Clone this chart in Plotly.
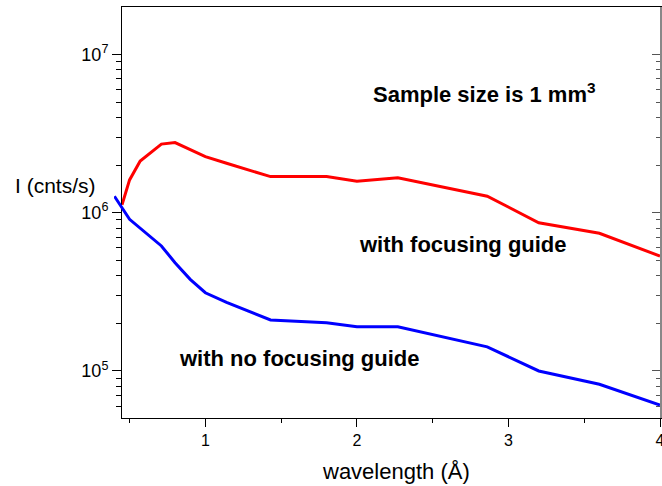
import plotly.graph_objects as go

# ---- data ----
wl_focus = [0.45, 0.5, 0.57, 0.71, 0.8, 1.0, 1.14, 1.43, 1.8, 2.0, 2.27, 2.86, 3.2, 3.6, 4.0]
I_focus = [1.12e6, 1.61e6, 2.12e6, 2.71e6, 2.77e6, 2.26e6, 2.05e6, 1.69e6, 1.69e6,
           1.58e6, 1.66e6, 1.27e6, 8.64e5, 7.41e5, 5.32e5]
wl_nofocus = [0.4, 0.5, 0.71, 0.8, 0.9, 1.0, 1.14, 1.43, 1.8, 2.0, 2.27, 2.86, 3.2, 3.6, 4.0]
I_nofocus = [1.27e6, 9.08e5, 6.16e5, 4.83e5, 3.79e5, 3.12e5, 2.71e5, 2.10e5, 2.02e5,
             1.90e5, 1.90e5, 1.42e5, 1.00e5, 8.24e4, 6.10e4]

x_ticks = [1, 2, 3, 4]
x_minor = [0.5, 1.5, 2.5, 3.5]
y_ticks = [1e5, 1e6, 1e7]
y_ticktext = ["10<sup>5</sup>", "10<sup>6</sup>", "10<sup>7</sup>"]
y_minor = [m * 10 ** d for d in (4, 5, 6, 7) for m in range(2, 10)]

# ---- layout geometry ----
W, H = 662, 486
ML, MR, MT, MB = 114, 2, 7, 68
AX_LEFT = 122          # pixel position of the drawn y axis
X_RANGE = [0.45, 4.0]
Y_RANGE = [4.703, 7.299]
paper_w = W - ML - MR
paper_h = H - MT - MB
ppu = (W - MR - AX_LEFT) / (X_RANGE[1] - X_RANGE[0])
x_dom0 = (AX_LEFT - ML) / paper_w
x2_range = [X_RANGE[0] - (AX_LEFT - ML) / ppu, X_RANGE[1]]


def px(xp):
    return (xp - ML) / paper_w


def py(yp):
    return (H - MB - yp) / paper_h


FONT = "Arial, Liberation Sans, sans-serif"

fig = go.Figure()
fig.add_trace(go.Scatter(x=wl_focus, y=I_focus, mode="lines",
                         line=dict(color="#ff0000", width=3),
                         xaxis="x", yaxis="y", hoverinfo="skip"))
fig.add_trace(go.Scatter(x=wl_nofocus, y=I_nofocus, mode="lines",
                         line=dict(color="#0000ff", width=3),
                         xaxis="x2", yaxis="y2", hoverinfo="skip"))
fig.add_trace(go.Scatter(x=[], y=[], xaxis="x", yaxis="y3", showlegend=False))

fig.update_layout(
    width=W, height=H,
    margin=dict(l=ML, r=MR, t=MT, b=MB, pad=0, autoexpand=False),
    paper_bgcolor="white", plot_bgcolor="rgba(0,0,0,0)",
    showlegend=False, hovermode=False,
    font=dict(family=FONT, color="black"),
    xaxis=dict(domain=[x_dom0, 1], range=X_RANGE, showgrid=False, zeroline=False,
               showline=True, linecolor="black", linewidth=1, mirror=True,
               ticks="outside", ticklen=8, tickcolor="black", automargin=False,
               tickvals=x_ticks, ticktext=[str(v) for v in x_ticks],
               tickfont=dict(size=16), ticklabeloverflow="allow",
               minor=dict(tickvals=x_minor, ticks="outside", ticklen=4,
                          tickcolor="black", showgrid=False)),
    yaxis=dict(type="log", range=Y_RANGE, anchor="x", showgrid=False, zeroline=False,
               showline=True, linecolor="black", linewidth=1, automargin=False,
               ticks="outside", ticklen=9, tickcolor="black",
               tickvals=y_ticks, ticktext=y_ticktext, tickfont=dict(size=18),
               minor=dict(tickvals=y_minor, ticks="outside", ticklen=5,
                          tickcolor="black", showgrid=False)),
    xaxis2=dict(domain=[0, 1], range=x2_range, anchor="y2", visible=False),
    yaxis2=dict(type="log", range=Y_RANGE, anchor="x2", visible=False),
    yaxis3=dict(type="log", range=Y_RANGE, overlaying="y", side="right", anchor="x",
                showgrid=False, zeroline=False, showline=True, linecolor="#888888",
                linewidth=1.5, ticks="inside", ticklen=8, tickcolor="#555555",
                tickvals=y_ticks, showticklabels=False, automargin=False,
                minor=dict(tickvals=y_minor, ticks="inside", ticklen=4,
                           tickcolor="#555555", showgrid=False)),
)

annos = [
    dict(text="I (cnts/s)", x=px(13), y=py(185), xanchor="left", size=21, bold=False),
    dict(text="wavelength (Å)", x=px(396), y=py(471), xanchor="center", size=22, bold=False),
    dict(text="Sample size is 1 mm<sup>3</sup>", x=px(371), y=py(93), xanchor="left", size=22, bold=True),
    dict(text="with focusing guide", x=px(357), y=py(245), xanchor="left", size=22, bold=True),
    dict(text="with no focusing guide", x=px(177), y=py(358), xanchor="left", size=22, bold=True),
]
for a in annos:
    fig.add_annotation(text=(f"<b>{a['text']}</b>" if a["bold"] else a["text"]),
                       x=a["x"], y=a["y"], xref="paper", yref="paper",
                       xanchor=a["xanchor"], yanchor="middle", showarrow=False,
                       font=dict(size=a["size"], family=FONT, color="black"))

fig.write_html("out.html")
